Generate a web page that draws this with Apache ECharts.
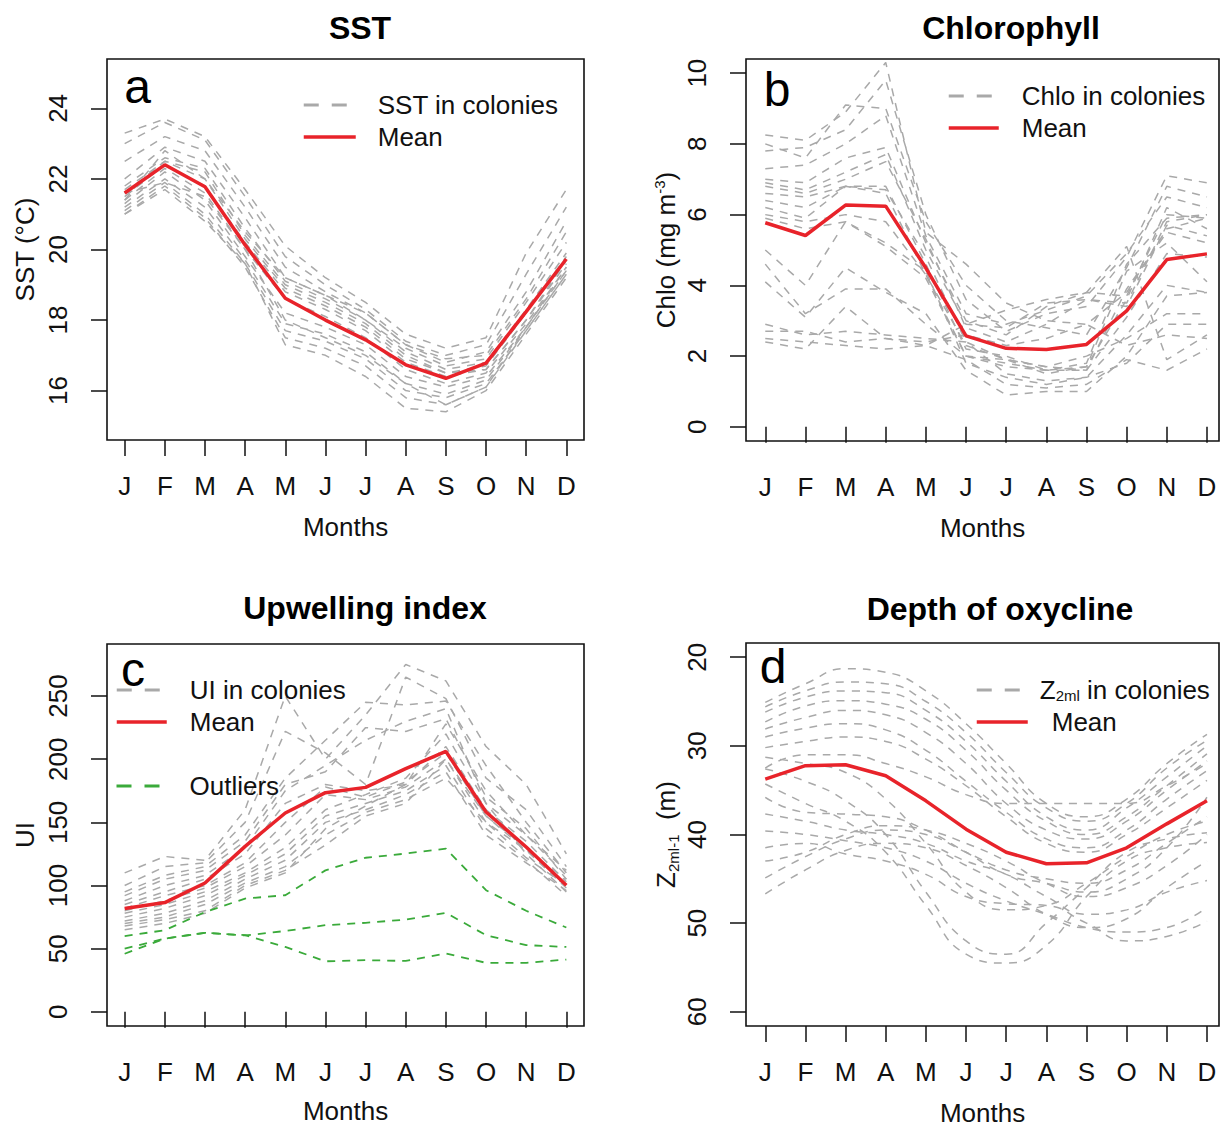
<!DOCTYPE html>
<html>
<head>
<meta charset="utf-8">
<script src="https://cdn.jsdelivr.net/npm/echarts@6/dist/echarts.min.js"></script>
<style>
html,body{margin:0;padding:0;background:#fff;}
#chart{width:1221px;height:1129px;}
</style>
</head>
<body>
<div id="chart"></div>
<script>
// ---------------- DATA ----------------
const months = ['J','F','M','A','M','J','J','A','S','O','N','D'];

const sstTicks  = [16, 18, 20, 22, 24];
const chloTicks = [0, 2, 4, 6, 8, 10];
const uiTicks   = [0, 50, 100, 150, 200, 250];
const zTicks    = [20, 30, 40, 50, 60];

// Panel a: SST in colonies (°C)
const sstColonies = [
  [23.3, 23.7, 23.2, 21.7, 20.1, 19.2, 18.5, 17.6, 17.2, 17.5, 19.9, 21.7],
  [23.0, 23.6, 23.1, 21.5, 19.8, 19.0, 18.3, 17.4, 17.0, 17.3, 19.3, 21.2],
  [22.5, 23.2, 22.8, 21.2, 19.5, 18.8, 18.2, 17.3, 16.8, 17.1, 18.8, 20.8],
  [22.0, 22.9, 22.5, 20.9, 19.2, 18.7, 18.0, 17.2, 16.7, 16.9, 18.5, 20.2],
  [21.8, 22.6, 22.3, 20.6, 19.1, 18.6, 18.0, 17.1, 16.6, 16.8, 18.3, 19.9],
  [21.7, 22.5, 22.2, 20.4, 19.0, 18.5, 17.9, 17.0, 16.5, 16.7, 18.2, 19.8],
  [21.6, 22.5, 22.0, 20.3, 18.9, 18.4, 17.8, 16.9, 16.5, 16.6, 18.0, 19.7],
  [21.5, 22.4, 21.8, 20.2, 18.8, 18.3, 17.7, 16.8, 16.4, 16.6, 18.0, 19.6],
  [21.4, 22.3, 21.6, 20.0, 18.6, 18.1, 17.5, 16.6, 16.2, 16.5, 17.9, 19.5],
  [21.3, 22.2, 21.4, 19.8, 18.2, 17.8, 17.3, 16.4, 16.1, 16.4, 17.8, 19.4],
  [21.2, 22.0, 21.2, 19.7, 17.9, 17.6, 17.1, 16.2, 15.9, 16.3, 17.8, 19.4],
  [21.1, 21.9, 21.0, 19.6, 17.7, 17.4, 16.9, 16.0, 15.8, 16.2, 17.7, 19.3],
  [21.0, 21.8, 20.9, 19.5, 17.5, 17.2, 16.7, 15.8, 15.6, 16.1, 17.7, 19.3],
  [21.0, 21.7, 20.8, 19.6, 17.3, 17.0, 16.4, 15.5, 15.4, 16.0, 17.6, 19.2],
  [21.4, 22.8, 22.0, 20.5, 19.2, 18.7, 18.2, 17.3, 16.9, 17.0, 18.6, 20.5],
  [21.6, 21.9, 21.5, 20.0, 18.0, 17.5, 17.0, 16.2, 15.6, 16.1, 17.8, 19.5]
];
const sstMean = [21.6, 22.4, 21.78, 20.13, 18.62, 18.0, 17.44, 16.73, 16.35, 16.78, 18.24, 19.73];

// Panel b: Chlorophyll in colonies (mg m-3)
const chloColonies = [
  [8.25, 8.1, 8.9, 10.3, 5.5, 4.6, 3.5, 3.0, 2.9, 3.8, 5.6, 5.9],
  [8.0, 7.6, 9.1, 9.0, 5.8, 4.0, 3.0, 2.8, 2.6, 4.5, 6.8, 6.5],
  [7.8, 7.9, 8.4, 9.8, 6.0, 3.6, 2.7, 3.2, 3.4, 4.8, 7.1, 6.9],
  [7.3, 7.4, 8.0, 8.8, 5.4, 3.2, 2.9, 3.3, 3.7, 4.9, 6.5, 6.2],
  [7.0, 6.9, 7.6, 7.9, 5.2, 3.0, 2.6, 3.4, 3.8, 3.7, 6.0, 5.9],
  [6.9, 6.7, 7.2, 7.7, 5.0, 2.9, 2.8, 3.5, 3.6, 3.5, 5.8, 6.0],
  [6.8, 6.6, 7.0, 7.5, 5.3, 2.8, 2.4, 2.9, 3.6, 3.4, 5.7, 5.4],
  [6.6, 6.5, 6.8, 6.8, 4.6, 2.2, 2.0, 1.6, 1.7, 3.6, 6.2, 5.6],
  [6.4, 6.2, 6.8, 6.7, 4.8, 2.4, 1.9, 1.7, 1.6, 3.9, 5.5, 5.2],
  [6.2, 5.9, 6.8, 6.6, 4.3, 2.0, 1.7, 1.6, 1.8, 4.6, 5.9, 6.0],
  [6.0, 5.8, 6.0, 5.8, 4.3, 2.3, 1.9, 1.5, 1.7, 4.4, 5.2, 4.1],
  [5.9, 5.6, 5.8, 5.1, 4.2, 2.0, 1.8, 1.6, 1.6, 3.1, 4.9, 4.8],
  [5.0, 4.0, 5.8, 5.2, 4.4, 1.8, 1.4, 1.2, 1.4, 2.6, 4.0, 3.8],
  [4.6, 3.2, 3.9, 3.9, 2.9, 2.0, 1.9, 1.7, 2.0, 2.5, 3.2, 3.2],
  [4.1, 3.1, 4.5, 3.8, 3.2, 1.6, 0.9, 1.0, 1.0, 2.0, 3.7, 3.8],
  [2.9, 2.6, 2.7, 2.6, 2.5, 2.4, 1.5, 1.3, 1.4, 1.8, 2.9, 2.9],
  [2.7, 2.7, 2.4, 2.5, 2.4, 2.6, 2.3, 2.5, 2.9, 2.3, 2.6, 2.5],
  [2.5, 2.4, 2.3, 2.2, 2.3, 1.9, 1.2, 1.1, 1.2, 1.9, 1.6, 2.2],
  [2.4, 2.2, 3.4, 2.5, 2.3, 2.9, 3.3, 3.6, 3.8, 5.1, 1.9, 2.6]
];
const chloMean = [5.77, 5.41, 6.27, 6.24, 4.49, 2.57, 2.22, 2.19, 2.33, 3.28, 4.73, 4.89];

// Panel c: Upwelling index in colonies
const uiColonies = [
  [110, 123, 120, 160, 250, 200, 235, 275, 262, 210, 180, 125],
  [100, 115, 118, 150, 222, 205, 180, 265, 248, 185, 160, 115],
  [95, 108, 115, 140, 185, 215, 245, 243, 246, 195, 150, 110],
  [92, 105, 112, 135, 180, 190, 225, 222, 232, 170, 145, 105],
  [88, 100, 108, 130, 175, 195, 215, 230, 240, 165, 140, 108],
  [85, 95, 105, 125, 165, 180, 175, 180, 210, 160, 135, 103],
  [82, 92, 100, 118, 150, 178, 170, 182, 205, 155, 130, 100],
  [80, 88, 98, 115, 140, 172, 168, 178, 200, 150, 128, 98],
  [78, 85, 95, 110, 130, 160, 172, 185, 220, 165, 125, 95],
  [75, 82, 92, 108, 125, 155, 165, 175, 195, 145, 120, 92],
  [72, 78, 88, 105, 120, 150, 160, 172, 190, 140, 118, 96],
  [70, 75, 85, 102, 115, 140, 158, 168, 185, 150, 122, 100],
  [68, 73, 80, 100, 112, 132, 155, 165, 200, 155, 128, 105],
  [65, 70, 78, 98, 110, 145, 163, 180, 228, 175, 140, 112]
];
const uiOutliers = [
  [60, 64.6, 79, 89.7, 92.3, 112, 122, 125.3, 129.2, 96.3, 80, 66.8],
  [50, 58, 62.6, 60.5, 64, 68.6, 70.5, 73, 78.4, 60.7, 52.8, 51.4],
  [46, 58, 62.6, 60.7, 51.4, 40, 40.9, 40.3, 46.2, 38.8, 38.8, 41.4]
];
const uiMean = [81.8, 86.5, 102, 131, 157.4, 173.5, 177.7, 192.5, 206.2, 158.2, 130.5, 100.2];

// Panel d: depth of oxycline Z2ml-1 in colonies (m)
const zColonies = [
  [25.1, 23.0, 21.3, 21.7, 23.8, 27.5, 32.0, 36.5, 38.0, 36.0, 32.0, 28.7],
  [25.6, 23.8, 22.8, 23.0, 25.0, 28.5, 33.0, 37.0, 38.5, 36.5, 32.5, 29.4],
  [26.2, 24.5, 23.8, 24.0, 26.0, 29.5, 34.0, 38.0, 39.5, 37.0, 33.5, 30.0],
  [27.3, 25.5, 24.9, 25.3, 27.0, 30.5, 35.0, 38.5, 40.0, 38.0, 34.5, 30.9],
  [28.1, 26.8, 26.0, 26.5, 28.5, 32.0, 36.5, 39.5, 40.5, 38.5, 35.0, 31.7],
  [29.0, 28.0, 27.5, 28.2, 30.5, 34.0, 37.5, 40.5, 41.5, 39.5, 36.0, 32.8],
  [30.2, 29.5, 29.0, 29.5, 31.5, 34.5, 38.0, 41.0, 42.0, 40.0, 37.0, 33.9],
  [31.3, 32.0, 33.0, 36.0, 41.0, 46.5, 48.5, 48.0, 45.5, 42.5, 40.0, 38.5],
  [32.6, 34.0, 36.2, 40.0, 46.5, 52.0, 53.5, 50.0, 46.0, 42.0, 40.5, 39.8],
  [34.3, 36.5, 38.5, 42.0, 48.0, 53.5, 54.5, 52.5, 47.0, 43.0, 41.5, 40.9],
  [35.8, 37.5, 37.7, 38.0, 39.5, 42.0, 44.5, 45.5, 46.5, 45.0, 41.5, 35.8],
  [37.7, 38.5, 39.5, 40.0, 41.0, 43.0, 44.5, 47.0, 49.0, 48.5, 46.5, 45.2],
  [39.6, 40.0, 40.7, 41.5, 43.0, 45.5, 47.5, 49.0, 50.5, 51.0, 50.5, 48.2],
  [41.5, 41.0, 42.2, 43.0, 44.5, 47.0, 47.8, 48.0, 50.0, 52.0, 51.5, 49.8],
  [43.0, 42.0, 40.0, 39.0, 39.5, 41.0, 43.0, 45.5, 47.0, 46.0, 43.5, 40.0],
  [44.9, 42.5, 40.5, 39.5, 40.0, 42.0, 44.0, 45.0, 45.5, 44.0, 41.0, 38.0],
  [46.7, 44.0, 41.8, 41.0, 41.5, 43.5, 46.0, 49.0, 50.5, 49.5, 46.0, 43.0],
  [32.5, 31.0, 31.0, 32.0, 33.5, 35.5, 36.5, 36.5, 36.5, 36.5, 34.5, 32.0]
];
const zMean = [33.75, 32.24, 32.13, 33.37, 36.2, 39.4, 42.0, 43.3, 43.2, 41.5, 38.8, 36.2];

// ---------------- STYLE / LAYOUT ----------------
const FONT = '"Liberation Sans", Arial, Helvetica, sans-serif';
const TXT = '#111';
const GRAY = '#a9a9a9';
const RED = '#e8232a';
const GREEN = '#3aaa3a';
const monthPos = months.map((m, i) => i + 1);
const toXY = vals => vals.map((v, i) => [monthPos[i], v]);

const panels = [
  {grid: {left: 107, top: 59, width: 477, height: 381}, xMin: 0.56, xMax: 12.44,
   yMin: 14.6, yMax: 25.4, inverse: false, ticks: sstTicks, yName: 'SST (°C)', yGap: 69, xGap: 74},
  {grid: {left: 746, top: 59, width: 473, height: 382}, xMin: 0.52, xMax: 12.30,
   yMin: -0.4, yMax: 10.4, inverse: false, ticks: chloTicks, yName: '{n|Chlo (mg m}{sup|-3}{n|)}', yGap: 64, xGap: 74},
  {grid: {left: 107, top: 644, width: 477, height: 382}, xMin: 0.56, xMax: 12.44,
   yMin: -11.2, yMax: 291.2, inverse: false, ticks: uiTicks, yName: 'UI', yGap: 69, xGap: 72},
  {grid: {left: 746, top: 643, width: 473, height: 383}, xMin: 0.52, xMax: 12.30,
   yMin: 18.4, yMax: 61.6, inverse: true, ticks: zTicks, yName: '{n|Z}{sub|2ml-1}{n|  (m)}', yGap: 64, xGap: 74}
];

const nameRich = {
  n: {fontSize: 26, fontFamily: FONT, color: TXT, lineHeight: 32, verticalAlign: 'middle'},
  sup: {fontSize: 15, fontFamily: FONT, color: TXT, lineHeight: 32, verticalAlign: 'top', padding: [2, 0, 0, 0]},
  sub: {fontSize: 15, fontFamily: FONT, color: TXT, lineHeight: 32, verticalAlign: 'bottom', padding: [0, 0, 1, 0]}
};

const grids = panels.map(p => Object.assign({show: true, borderColor: '#111', borderWidth: 1.6, backgroundColor: 'transparent'}, p.grid));

const xAxes = panels.map((p, i) => ({
  gridIndex: i, type: 'value', min: p.xMin, max: p.xMax,
  axisLine: {show: false}, splitLine: {show: false},
  axisTick: {show: true, length: 16, customValues: monthPos, lineStyle: {color: TXT, width: 1.5}},
  axisLabel: {customValues: monthPos, formatter: v => months[Math.round(v) - 1], margin: 33,
              fontSize: 26, fontFamily: FONT, color: TXT},
  name: 'Months', nameLocation: 'middle', nameGap: p.xGap,
  nameTextStyle: {fontSize: 26, fontFamily: FONT, color: TXT}
}));

const yAxes = panels.map((p, i) => ({
  gridIndex: i, type: 'value', min: p.yMin, max: p.yMax, inverse: p.inverse,
  axisLine: {show: false}, splitLine: {show: false},
  axisTick: {show: true, length: 16, customValues: p.ticks, lineStyle: {color: TXT, width: 1.5}},
  axisLabel: {customValues: p.ticks, rotate: 90, margin: 36, fontSize: 26, fontFamily: FONT, color: TXT},
  name: p.yName, nameLocation: 'middle', nameGap: p.yGap, nameRotate: 90,
  nameTextStyle: {fontSize: 26, fontFamily: FONT, color: TXT, rich: nameRich}
}));

const grayStyle = {color: GRAY, width: 1.5, type: [8, 7]};
const series = [];
function addLines(list, name, idx, style, smooth) {
  list.forEach(vals => series.push({
    type: 'line', name: name, xAxisIndex: idx, yAxisIndex: idx, data: toXY(vals),
    symbol: 'none', smooth: smooth || false, silent: true, z: 2,
    lineStyle: style, itemStyle: {color: style.color}
  }));
}
function addMean(vals, idx) {
  series.push({
    type: 'line', name: 'Mean', xAxisIndex: idx, yAxisIndex: idx, data: toXY(vals),
    symbol: 'none', silent: true, z: 5,
    lineStyle: {color: RED, width: 3.5}, itemStyle: {color: RED}
  });
}
addLines(sstColonies, 'SST in colonies', 0, grayStyle);
addMean(sstMean, 0);
addLines(chloColonies, 'Chlo in colonies', 1, grayStyle);
addMean(chloMean, 1);
addLines(uiColonies, 'UI in colonies', 2, grayStyle);
addLines(uiOutliers, 'Outliers', 2, {color: GREEN, width: 1.8, type: [8, 7]});
addMean(uiMean, 2);
addLines(zColonies, 'Z2ml in colonies', 3, grayStyle, 0.5);
addMean(zMean, 3);

const legGray = {color: GRAY, width: 3, type: [15, 13]};
const legRed = {color: RED, width: 3.5, type: 'solid'};
const legGreen = {color: GREEN, width: 3, type: [15, 13]};
function legend(left, top, width, items, pad) {
  return {
    orient: 'vertical', left: left, top: top, padding: 0, itemGap: 6,
    itemWidth: width, itemHeight: 14, selectedMode: false,
    itemStyle: {opacity: 0, borderWidth: 0},
    textStyle: {fontSize: 26, lineHeight: 26, fontFamily: FONT, color: TXT, padding: [0, 0, 0, pad],
                rich: {n: {fontSize: 26, fontFamily: FONT, color: TXT, verticalAlign: 'bottom', lineHeight: 26},
                       sub: {fontSize: 15, fontFamily: FONT, color: TXT, verticalAlign: 'bottom', lineHeight: 22}}},
    formatter: name => name === 'Z2ml in colonies' ? '{n|Z}{sub|2ml}{n| in colonies}' : name,
    data: items
  };
}
const legends = [
  legend(302, 92, 52, [{name: 'SST in colonies', lineStyle: legGray}, {name: 'Mean', lineStyle: legRed}], 17),
  legend(947, 83, 50, [{name: 'Chlo in colonies', lineStyle: legGray}, {name: 'Mean', lineStyle: legRed}], 18),
  legend(115, 677, 50, [{name: 'UI in colonies', lineStyle: legGray}, {name: 'Mean', lineStyle: legRed}], 18),
  legend(115, 773, 50, [{name: 'Outliers', lineStyle: legGreen}], 18),
  legend(975, 677, 51, [{name: 'Z2ml in colonies', lineStyle: legGray},
                        {name: 'Mean', lineStyle: legRed, textStyle: {padding: [0, 0, 0, 19]}}], 7)
];

function gText(x, y, text, font) {
  return {type: 'text', x: x, y: y, silent: true,
          style: {text: text, font: font, fill: '#000', textAlign: 'center', textVerticalAlign: 'middle'}};
}
const titleFont = 'bold 32px ' + FONT;
const letterFont = '48px ' + FONT;
const graphics = [
  gText(360, 28, 'SST', titleFont),
  gText(1011, 28, 'Chlorophyll', titleFont),
  gText(365, 608, 'Upwelling index', titleFont),
  gText(1000, 609, 'Depth of oxycline', titleFont),
  gText(137.5, 86, 'a', letterFont),
  gText(777, 89, 'b', letterFont),
  gText(133, 669, 'c', letterFont),
  gText(773, 666, 'd', letterFont)
];

const chart = echarts.init(document.getElementById('chart'), null, {renderer: 'svg'});
chart.setOption({
  backgroundColor: '#fff',
  animation: false,
  tooltip: {show: false},
  grid: grids,
  xAxis: xAxes,
  yAxis: yAxes,
  legend: legends,
  series: series,
  graphic: graphics
});
</script>
</body>
</html>
